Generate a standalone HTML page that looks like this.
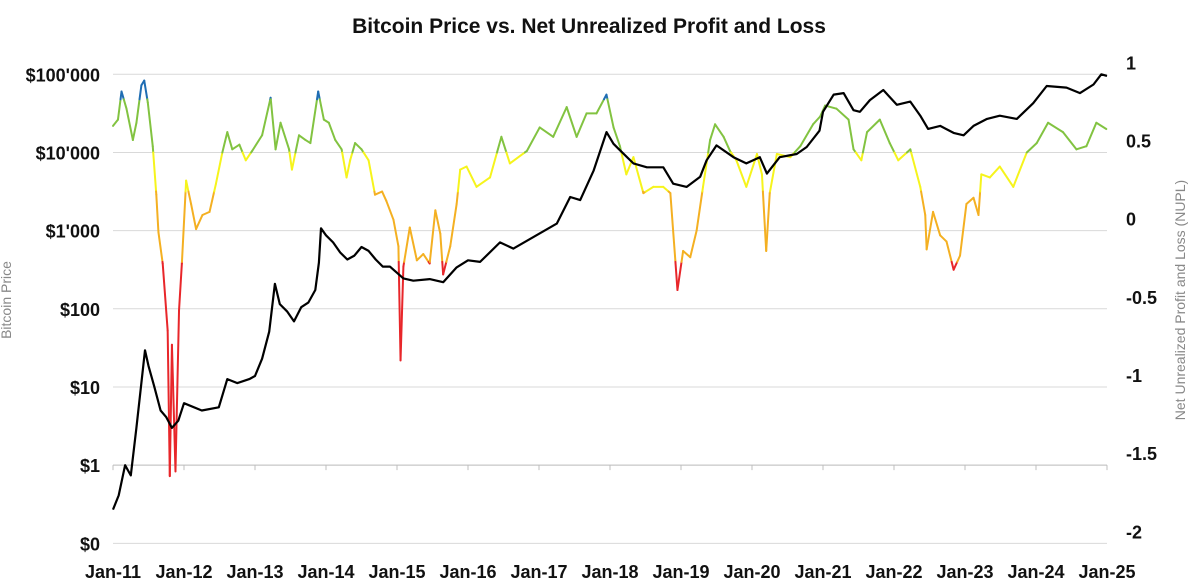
<!DOCTYPE html>
<html><head><meta charset="utf-8"><style>
html,body{margin:0;padding:0;background:#fff;}
svg{display:block;font-family:"Liberation Sans",sans-serif;}
</style></head><body>
<svg id="chart" width="1200" height="588" viewBox="0 0 1200 588" xmlns="http://www.w3.org/2000/svg">
<text x="589" y="33" text-anchor="middle" font-size="21" font-weight="bold" fill="#111">Bitcoin Price vs. Net Unrealized Profit and Loss</text>
<text transform="translate(11,300) rotate(-90)" text-anchor="middle" font-size="14" fill="#888">Bitcoin Price</text>
<text transform="translate(1185,300) rotate(-90)" text-anchor="middle" font-size="14" fill="#888">Net Unrealized Profit and Loss (NUPL)</text>
<g id="grid"></g>
<g id="axes"></g>
<g id="nupl"></g>
<g id="price"></g>
</svg>
<script>
const xTickLabels = ["Jan-11","Jan-12","Jan-13","Jan-14","Jan-15","Jan-16","Jan-17","Jan-18","Jan-19","Jan-20","Jan-21","Jan-22","Jan-23","Jan-24","Jan-25"];
const leftTickValues = [100000,10000,1000,100,10,1,0.1];
const leftTickLabels = ["$100'000","$10'000","$1'000","$100","$10","$1","$0"];
const rightTickValues = [1,0.5,0,-0.5,-1,-1.5,-2];
const rightTickLabels = ["1","0.5","0","-0.5","-1","-1.5","-2"];

const priceDates = [2011.00,2011.08,2011.17,2011.25,2011.33,2011.45,2011.50,2011.58,2011.67,2011.75,2011.83,2011.92,2012.00,2012.25,2012.49,2012.61,2012.75,2012.92,2013.00,2013.10,2013.20,2013.28,2013.35,2013.45,2013.55,2013.65,2013.75,2013.85,2013.90,2013.93,2014.00,2014.10,2014.20,2014.30,2014.40,2014.50,2014.60,2014.70,2014.80,2014.90,2015.09,2015.23,2015.46,2015.65,2015.84,2016.00,2016.17,2016.45,2016.64,2017.00,2017.25,2017.44,2017.58,2017.77,2017.95,2018.05,2018.14,2018.33,2018.52,2018.75,2018.89,2019.08,2019.27,2019.36,2019.50,2019.74,2019.92,2020.11,2020.21,2020.39,2020.63,2020.77,2020.95,2021.00,2021.15,2021.29,2021.43,2021.52,2021.66,2021.85,2022.04,2022.23,2022.37,2022.48,2022.65,2022.84,2022.98,2023.12,2023.31,2023.49,2023.73,2023.96,2024.15,2024.43,2024.62,2024.81,2024.92,2025.00];
const priceValues = [0.27,0.41,1.0,0.74,3.0,29.5,18.6,10.2,5.0,4.1,3.0,3.7,6.2,5.0,5.5,12.6,11.2,12.6,13.8,23,51,209,115,93,69,105,120,174,389,1070,871,708,525,427,479,617,550,427,347,347,245,229,240,219,339,417,398,708,589,912,1230,2690,2455,5890,18200,12900,10700,7240,6460,6460,3980,3630,4900,7940,12300,8700,7240,8700,5370,8700,9550,11750,19000,33100,55000,57500,34700,33100,46800,63000,40700,44700,29500,20000,21900,17800,16600,21900,26900,29500,26900,42700,70800,67600,57500,74100,100000,95500];

const nuplDates = [2011.00,2011.07,2011.12,2011.19,2011.28,2011.33,2011.40,2011.44,2011.49,2011.56,2011.61,2011.64,2011.70,2011.77,2011.80,2011.83,2011.88,2011.93,2011.97,2012.03,2012.10,2012.17,2012.26,2012.36,2012.45,2012.54,2012.61,2012.68,2012.78,2012.87,2012.96,2013.10,2013.22,2013.29,2013.36,2013.48,2013.52,2013.62,2013.71,2013.78,2013.89,2013.97,2014.04,2014.13,2014.22,2014.29,2014.34,2014.41,2014.50,2014.60,2014.69,2014.79,2014.85,2014.95,2015.02,2015.05,2015.09,2015.18,2015.28,2015.37,2015.46,2015.54,2015.61,2015.65,2015.75,2015.84,2015.89,2015.98,2016.12,2016.31,2016.47,2016.59,2016.83,2017.01,2017.20,2017.39,2017.53,2017.67,2017.81,2017.95,2018.05,2018.14,2018.23,2018.33,2018.47,2018.61,2018.75,2018.85,2018.92,2018.95,2019.03,2019.13,2019.22,2019.31,2019.41,2019.48,2019.60,2019.69,2019.78,2019.92,2020.07,2020.14,2020.20,2020.25,2020.35,2020.54,2020.68,2020.86,2020.96,2021.03,2021.19,2021.36,2021.43,2021.54,2021.62,2021.80,2021.94,2022.06,2022.23,2022.37,2022.44,2022.46,2022.55,2022.65,2022.74,2022.84,2022.93,2023.02,2023.12,2023.19,2023.23,2023.35,2023.49,2023.68,2023.87,2024.01,2024.17,2024.38,2024.57,2024.71,2024.85,2024.99];
const nuplValues = [0.67,0.71,0.89,0.78,0.58,0.69,0.93,0.96,0.82,0.54,0.23,-0.01,-0.21,-0.64,-1.57,-0.73,-1.54,-0.51,-0.21,0.32,0.17,0.01,0.10,0.12,0.30,0.50,0.63,0.52,0.55,0.45,0.51,0.61,0.85,0.52,0.69,0.52,0.39,0.61,0.58,0.56,0.89,0.71,0.69,0.58,0.52,0.34,0.45,0.56,0.52,0.45,0.23,0.25,0.19,0.07,-0.10,-0.83,-0.23,0.02,-0.19,-0.15,-0.21,0.13,-0.02,-0.28,-0.10,0.17,0.39,0.41,0.28,0.34,0.60,0.43,0.51,0.66,0.60,0.79,0.60,0.75,0.75,0.87,0.66,0.54,0.36,0.47,0.24,0.28,0.28,0.24,-0.19,-0.38,-0.13,-0.17,0.00,0.28,0.58,0.68,0.60,0.51,0.45,0.28,0.49,0.36,-0.13,0.24,0.49,0.47,0.54,0.68,0.73,0.80,0.78,0.71,0.52,0.45,0.63,0.71,0.56,0.45,0.52,0.28,0.10,-0.12,0.12,-0.03,-0.07,-0.25,-0.16,0.17,0.21,0.10,0.36,0.34,0.41,0.28,0.50,0.56,0.69,0.63,0.52,0.54,0.69,0.65];

const NS = "http://www.w3.org/2000/svg";
const X0 = 113, XPY = 71, YTOP = 74.3, DEC = 78.17, UNIT = 156.33;
function xScale(yr){ return X0 + (yr - 2011) * XPY; }
function yPrice(p){ return YTOP + (5 - Math.log10(p)) * DEC; }
function yNupl(v){ return YTOP + (1 - v) * UNIT; }
function mk(tag, attrs, parent){ const e = document.createElementNS(NS, tag); for (const k in attrs) e.setAttribute(k, attrs[k]); parent.appendChild(e); return e; }

const grid = document.getElementById('grid');
const axes = document.getElementById('axes');
leftTickValues.forEach((v, i) => {
  const y = yPrice(v);
  const gl = mk('line', {x1: X0, x2: 1107, y1: y, y2: y, stroke: '#d9d9d9', 'stroke-width': 1}, grid);
  
  
  const t = mk('text', {x: 100, y: y + 7, 'text-anchor': 'end', 'font-size': 18, 'font-weight': 'bold', fill: '#111'}, axes);
  t.textContent = leftTickLabels[i];
  
  
});
rightTickValues.forEach((v, i) => {
  const y = yNupl(v);
  const t = mk('text', {x: 1126, y: y - 5, 'text-anchor': 'start', 'font-size': 18, 'font-weight': 'bold', fill: '#111'}, axes);
  t.textContent = rightTickLabels[i];
  
  
});
const axisY = yPrice(1);
const al = mk('line', {x1: X0, x2: 1107, y1: axisY, y2: axisY, stroke: '#bfbfbf', 'stroke-width': 1}, axes);


xTickLabels.forEach((lab, i) => {
  const x = xScale(2011 + i);
  const tk = mk('line', {x1: x, x2: x, y1: axisY, y2: axisY + 5, stroke: '#bfbfbf', 'stroke-width': 1}, axes);
  
  
  const t = mk('text', {x: x, y: 578, 'text-anchor': 'middle', 'font-size': 18, 'font-weight': 'bold', fill: '#111'}, axes);
  t.textContent = lab;
  
  
});

// NUPL colored line
const TH = [-0.2, 0.25, 0.5, 0.84];
function col(v){ if (v < TH[0]) return '#e8262a'; if (v < TH[1]) return '#f4b022'; if (v < TH[2]) return '#f6f41c'; if (v < TH[3]) return '#82c341'; return '#1f6db3'; }
const ng = document.getElementById('nupl');
for (let i = 0; i < nuplDates.length - 1; i++) {
  const a = nuplValues[i], b = nuplValues[i+1];
  const ta = nuplDates[i], tb = nuplDates[i+1];
  const cuts = [0];
  TH.forEach(t => { if ((a - t) * (b - t) < 0) cuts.push((t - a) / (b - a)); });
  cuts.push(1); cuts.sort((p, q) => p - q);
  for (let k = 0; k < cuts.length - 1; k++) {
    const f1 = cuts[k], f2 = cuts[k+1];
    const v1 = a + (b - a) * f1, v2 = a + (b - a) * f2;
    const seg = mk('line', {x1: xScale(ta + (tb - ta) * f1), y1: yNupl(v1), x2: xScale(ta + (tb - ta) * f2), y2: yNupl(v2), stroke: col((v1 + v2) / 2), 'stroke-width': 2, 'stroke-linecap': 'round'}, ng);
    
    
  }
}

// Price line
const pg = document.getElementById('price');
const d = priceDates.map((t, i) => (i ? 'L' : 'M') + xScale(t).toFixed(1) + ' ' + yPrice(priceValues[i]).toFixed(1)).join(' ');
const pl = mk('path', {d: d, fill: 'none', stroke: '#000', 'stroke-width': 2.2, 'stroke-linejoin': 'round'}, pg);


</script>
</body></html>
